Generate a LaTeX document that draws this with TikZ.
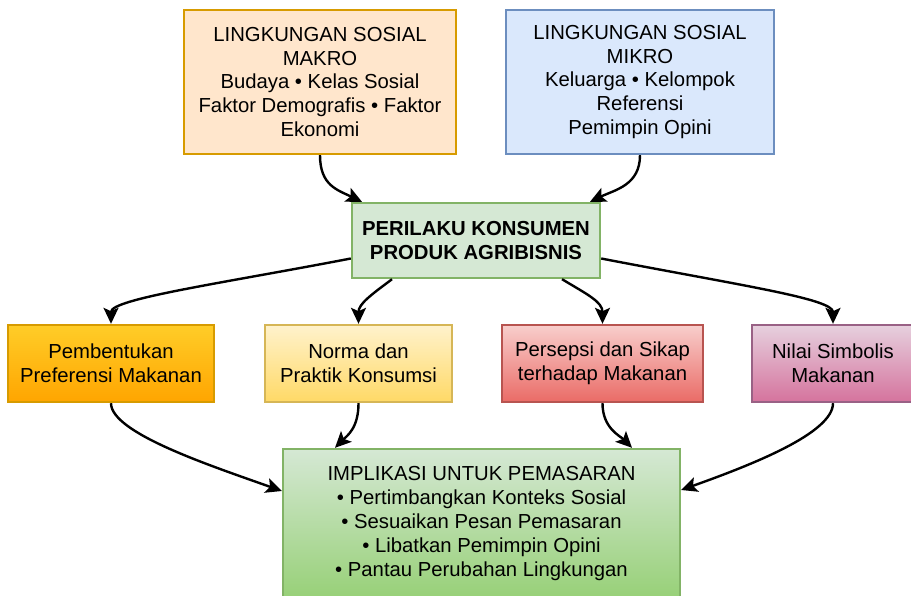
\documentclass[tikz,border=0pt]{standalone}
\usepackage{fontspec}
\setmainfont{Liberation Sans}
\usetikzlibrary{arrows.meta}
\definecolor{orfill}{HTML}{FFE6CC}\definecolor{ordraw}{HTML}{D79B00}
\definecolor{blfill}{HTML}{DAE8FC}\definecolor{bldraw}{HTML}{6C8EBF}
\definecolor{grfill}{HTML}{D5E8D4}\definecolor{grdraw}{HTML}{82B366}\definecolor{grbot}{HTML}{97D077}
\definecolor{amtop}{HTML}{FFCD28}\definecolor{ambot}{HTML}{FFA500}
\definecolor{yetop}{HTML}{FFF2CC}\definecolor{yebot}{HTML}{FFD966}\definecolor{yedraw}{HTML}{D6B656}
\definecolor{retop}{HTML}{F8CECC}\definecolor{rebot}{HTML}{EA6B66}\definecolor{redraw}{HTML}{B85450}
\definecolor{putop}{HTML}{E6D0DE}\definecolor{pubot}{HTML}{D5739D}\definecolor{pudraw}{HTML}{996185}
\begin{document}
\begin{tikzpicture}[x=1pt,y=-1pt,
  box/.style={rectangle, draw, line width=2.4pt, align=center, inner sep=0pt,
    font=\fontsize{20.3}{23.8}\selectfont},
  link/.style={line width=2.4pt, -{Stealth[length=16pt,width=15pt,inset=3.5pt]}}
]
\useasboundingbox (0,0) rectangle (911,595);

% environment boxes
\node[box, fill=orfill, draw=ordraw, minimum width=272pt, minimum height=144pt] (mak) at (320,82)
  {LINGKUNGAN SOSIAL\\MAKRO\\Budaya • Kelas Sosial\\Faktor Demografis • Faktor\\Ekonomi};
\node[box, fill=blfill, draw=bldraw, minimum width=268pt, minimum height=144pt] (mik) at (640,82)
  {LINGKUNGAN SOSIAL\\MIKRO\\Keluarga • Kelompok\\Referensi\\Pemimpin Opini};

% central box
\node[box, fill=grfill, draw=grdraw, minimum width=248pt, minimum height=75pt,
  font=\fontsize{20.3}{23.8}\selectfont\bfseries] (per) at (476,240.5)
  {PERILAKU KONSUMEN\\PRODUK AGRIBISNIS};

% effect boxes
\node[box, top color=amtop, bottom color=ambot, draw=ordraw, minimum width=206pt, minimum height=77pt] (pa) at (111,363.5)
  {Pembentukan\\Preferensi Makanan};
\node[box, top color=yetop, bottom color=yebot, draw=yedraw, minimum width=187pt, minimum height=77pt] (pb) at (358.5,363.5)
  {Norma dan\\Praktik Konsumsi};
\node[box, top color=retop, bottom color=rebot, draw=redraw, minimum width=201pt, minimum height=77pt] (pc) at (602.5,363.5)
  {Persepsi dan Sikap\\terhadap Makanan};
\node[box, top color=putop, bottom color=pubot, draw=pudraw, minimum width=162pt, minimum height=77pt] (pd) at (833,363.5)
  {Nilai Simbolis\\Makanan};

% marketing implications
\node[box, top color=grfill, bottom color=grbot, draw=grdraw, minimum width=397pt, minimum height=150pt,
  font=\fontsize{20.3}{24}\selectfont] (imp) at (481.5,524)
  {IMPLIKASI UNTUK PEMASARAN\\• Pertimbangkan Konteks Sosial\\• Sesuaikan Pesan Pemasaran\\• Libatkan Pemimpin Opini\\• Pantau Perubahan Lingkungan};

% connectors
\draw[link] (mak.south) .. controls +(0,30) and +(-25,-12) .. ([xshift=-114pt]per.north);
\draw[link] (mik.south) .. controls +(0,30) and +(25,-12) .. ([xshift=114pt]per.north);
\draw[link] ([yshift=-18pt]per.west) .. controls +(-130,25) and +(0,-25) .. (pa.north);
\draw[link] ([xshift=-84pt]per.south) .. controls +(-20,15) and +(0,-20) .. (pb.north);
\draw[link] ([xshift=86pt]per.south) .. controls +(25,15) and +(0,-22) .. (pc.north);
\draw[link] ([yshift=-18pt]per.east) .. controls +(140,27) and +(0,-25) .. (pd.north);
\draw[link] (pa.south) .. controls +(0,30) and +(-70,-25) .. ([yshift=33pt]imp.west);
\draw[link] (pb.south) .. controls +(0,25) and +(12,-12) .. ([xshift=-146.5pt]imp.north);
\draw[link] (pc.south) .. controls +(0,25) and +(-12,-12) .. ([xshift=150.5pt]imp.north);
\draw[link] (pd.south) .. controls +(0,30) and +(70,-25) .. ([yshift=34pt]imp.east);
\end{tikzpicture}
\end{document}
